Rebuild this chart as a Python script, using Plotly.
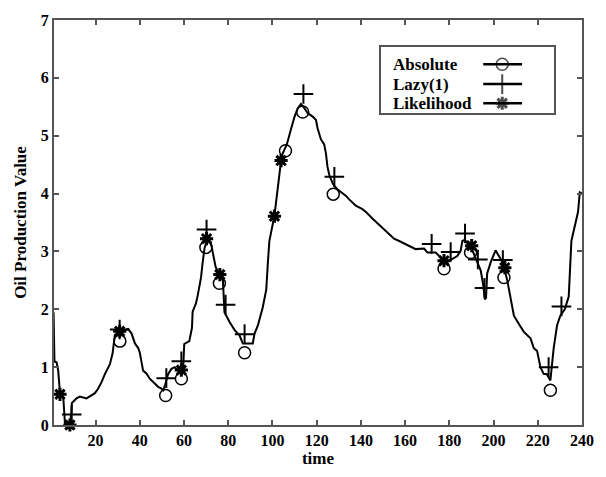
import plotly.graph_objects as go

# ---- data ----
time = [1, 1.4, 2.4, 3.1, 3.9, 4.6, 5.4, 6.2, 8.4, 9.0, 9.3, 11.4, 12.9, 15.9, 17.4, 19.7,
        21.2, 22.7, 24.2, 26.5, 27.7, 28.3, 28.7, 30.2, 32.5, 34.7, 36.3, 37.8, 39.3, 40.0,
        41.5, 43.0, 44.5, 46.8, 48.3, 49.8, 50.6, 51.5, 52.8, 54.3, 55.8, 57.3, 59.0, 59.7,
        60.1, 62.4, 63.6, 63.9, 65.4, 66.2, 67.7, 68.4, 69.3, 70.4, 71.4, 72.3, 73.1, 74.3,
        76.1, 77.6, 78.3, 80.6, 82.9, 85.1, 86.6, 91.1, 91.9, 93.4, 95.6, 97.2, 97.9, 98.6,
        100.9, 102.4, 103.9, 104.6, 106.5, 108.5, 110.0, 111.4, 112.9, 114.0, 115.9, 118.2,
        119.7, 120.4, 121.9, 123.4, 124.2, 124.9, 125.7, 127.2, 128.0, 129.5, 133.3, 134.7,
        137.7, 140.7, 142.3, 145.2, 148.3, 149.7, 152.8, 155.0, 157.3, 161.8, 164.8, 168.6,
        170.1, 173.8, 176.1, 177.6, 179.0, 181.4, 183.6, 185.1, 185.9, 187.0, 188.1, 190.1,
        191.7, 194.2, 195.2, 196.1, 196.6, 197.1, 198.7, 200.9, 202.4, 204.2, 206.2, 207.7,
        209.2, 211.4, 213.7, 216.7, 218.2, 219.7, 221.2, 222.7, 224.0, 225.7, 227.2, 228.7,
        230.2, 232.2, 234.0, 235.2, 236.7, 238.2, 239.0, 240.0]
oil = [1.95, 1.1, 1.08, 0.94, 0.55, 0.5, 0.47, 0.0, 0.0, 0.2, 0.38, 0.46, 0.49, 0.46, 0.49, 0.55,
       0.63, 0.74, 0.88, 1.05, 1.24, 1.41, 1.55, 1.6, 1.63, 1.66, 1.58, 1.41, 1.33, 1.25,
       0.94, 0.89, 0.8, 0.71, 0.66, 0.63, 0.6, 0.7, 0.88, 0.97, 1.0, 0.94, 0.97, 1.05,
       1.4, 1.45, 1.68, 1.96, 2.1, 2.24, 2.55, 2.8, 3.06, 3.2, 3.17, 3.12, 2.98, 2.73,
       2.59, 2.5, 1.95, 1.78, 1.64, 1.55, 1.41, 1.41, 1.58, 1.72, 2.03, 2.34, 2.79, 3.18,
       3.62, 4.15, 4.57, 4.69, 4.85, 5.13, 5.33, 5.47, 5.55, 5.5, 5.39, 5.33,
       5.27, 5.13, 4.94, 4.85, 4.69, 4.46, 4.32, 4.18, 4.13, 4.07, 3.96, 3.9,
       3.79, 3.73, 3.68, 3.57, 3.46, 3.4, 3.29, 3.22, 3.18, 3.09, 3.04, 3.05,
       2.98, 2.98, 2.9, 2.84, 2.82, 2.87, 2.92, 3.01, 3.18, 3.2, 3.15, 3.05,
       2.9, 2.67, 2.45, 2.17, 2.2, 2.62, 2.81, 3.02, 2.92, 2.8, 2.5, 2.17,
       1.89, 1.75, 1.61, 1.5, 1.33, 1.28, 1.0, 0.88, 0.88, 0.77, 1.33, 1.72,
       1.89, 2.0, 2.22, 3.18, 3.46, 3.68, 4.02, 4.0]

abs_t = [31.0, 51.7, 58.8, 69.9, 76.0, 87.4, 105.9, 113.7, 127.5, 177.6, 189.6, 204.7, 225.7]
abs_v = [1.45, 0.51, 0.8, 3.07, 2.45, 1.25, 4.74, 5.41, 3.99, 2.7, 2.98, 2.55, 0.6]

lazy_t = [9.2, 30.9, 52.0, 58.8, 70.2, 78.8, 87.4, 114.0, 128.0, 172.0, 180.6, 187.1,
          192.9, 195.9, 204.2, 224.9, 230.7]
lazy_v = [0.18, 1.65, 0.81, 1.1, 3.38, 2.08, 1.57, 5.72, 4.29, 3.13, 2.99, 3.31,
          2.86, 2.37, 2.85, 1.0, 2.05]

like_t = [3.9, 8.4, 30.9, 58.8, 70.2, 76.2, 100.9, 103.9, 177.6, 190.1, 205.1]
like_v = [0.53, 0.0, 1.62, 0.95, 3.22, 2.6, 3.61, 4.57, 2.84, 3.1, 2.72]

legend_names = ["Absolute", "Lazy(1)", "Likelihood"]
x_ticks = list(range(20, 241, 20))
y_ticks = list(range(0, 8))

# ---- styles ----
FONT = "Liberation Serif"
AX = "#555555"
sym = {"Absolute": ("circle-open", 12, 1.5),
       "Lazy(1)": ("cross-thin-open", 14, 2),
       "Likelihood": ("asterisk-open", 11, 3)}

fig = go.Figure()
fig.add_trace(go.Scatter(x=time, y=oil, mode="lines",
                         line=dict(color="black", width=2), showlegend=False))

for name, tx, vy in [("Absolute", abs_t, abs_v), ("Lazy(1)", lazy_t, lazy_v),
                     ("Likelihood", like_t, like_v)]:
    s, sz, lw = sym[name]
    fig.add_trace(go.Scatter(x=tx, y=vy, mode="markers", cliponaxis=False,
                             marker=dict(symbol=s, size=sz, color="black",
                                         line=dict(color="black", width=lw)),
                             showlegend=False))

# custom legend (text left, sample right) on its own axes
rows_y = [0.74, 0.44, 0.15]
for name, ry in zip(legend_names, rows_y):
    s, sz, lw = sym[name]
    fig.add_trace(go.Scatter(x=[0.59, 0.70, 0.815], y=[ry, ry, ry], xaxis="x2", yaxis="y2",
                             mode="lines+markers", showlegend=False,
                             line=dict(color="black", width=2.5),
                             marker=dict(symbol=s, size=[0, sz, 0], color="black",
                                         line=dict(color="black", width=lw))))
    fig.add_annotation(x=0.055, y=ry, xref="x2", yref="y2", text=name, showarrow=False,
                       xanchor="left", yanchor="middle",
                       font=dict(family=FONT, size=17, color="black", weight="bold"))

axis_common = dict(showline=True, linecolor=AX, linewidth=2, mirror="ticks",
                   ticks="inside", ticklen=5, tickcolor=AX, tickwidth=1.5,
                   showgrid=False, zeroline=False,
                   tickfont=dict(family=FONT, size=16, color="black", weight="bold"))

fig.update_layout(
    width=606, height=477,
    margin=dict(l=54, r=23, t=12, b=48),
    paper_bgcolor="white", plot_bgcolor="white",
    xaxis=dict(range=[1.2, 240], tickvals=x_ticks,
               title=dict(text="time", standoff=4,
                          font=dict(family=FONT, size=17, color="black", weight="bold")),
               **axis_common),
    yaxis=dict(range=[0, 7], tickvals=y_ticks,
               title=dict(text="Oil Production Value", standoff=10,
                          font=dict(family=FONT, size=17, color="black", weight="bold")),
               **axis_common),
    xaxis2=dict(domain=[0.620, 0.947], range=[0, 1], anchor="y2", showline=True,
                linecolor=AX, linewidth=1.5, mirror=True, showticklabels=False,
                ticks="", showgrid=False, zeroline=False, fixedrange=True),
    yaxis2=dict(domain=[0.770, 0.933], range=[0, 1], anchor="x2", showline=True,
                linecolor=AX, linewidth=1.5, mirror=True, showticklabels=False,
                ticks="", showgrid=False, zeroline=False, fixedrange=True),
    showlegend=False,
)

fig.write_html("out.html")
